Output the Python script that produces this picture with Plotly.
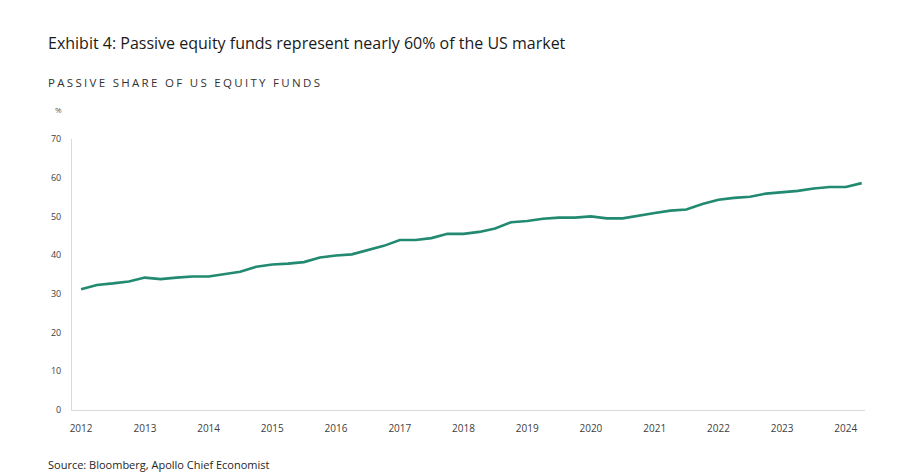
import plotly.graph_objects as go

# Quarterly observations, 2012 Q1 .. 2024 Q2
quarters = [f"{y}-{m:02d}-01" for y in range(2012, 2025) for m in (1, 4, 7, 10)][:50]
passive_share = [
    31.2, 32.3, 32.7, 33.2, 34.2, 33.8, 34.2, 34.5, 34.5, 35.1,
    35.7, 37.0, 37.6, 37.8, 38.2, 39.4, 39.9, 40.2, 41.2, 42.4,
    43.9, 43.9, 44.4, 45.5, 45.5, 46.0, 46.9, 48.5, 48.8, 49.4,
    49.7, 49.7, 50.0, 49.5, 49.5, 50.3, 50.9, 51.5, 51.8, 53.2,
    54.3, 54.8, 55.1, 55.9, 56.3, 56.6, 57.2, 57.6, 57.6, 58.6,
]
y_ticks = [0, 10, 20, 30, 40, 50, 60, 70]

title = "Exhibit 4: Passive equity funds represent nearly 60% of the US market"
subtitle = "PASSIVE SHARE OF US EQUITY FUNDS"
source = "Source: Bloomberg, Apollo Chief Economist"

FONT = "Open Sans"

# the page body adds an 8px offset; the figure is sized to fill the rest
OFF = 8
W, H = 912 - OFF, 475 - OFF
L, R, T, B = 72 - OFF, 47, 139 - OFF, 65

fig = go.Figure()
fig.add_trace(go.Scatter(
    x=quarters, y=passive_share, mode="lines",
    line=dict(color="#218a70", width=2.6),
    hoverinfo="x+y", showlegend=False,
))

fig.update_layout(
    width=W, height=H,
    margin=dict(l=L, r=R, t=T, b=B),
    paper_bgcolor="white", plot_bgcolor="white",
    font=dict(family=FONT, color="#595959"),
    xaxis=dict(
        type="date",
        range=["2011-11-10", "2024-04-20"],
        dtick="M12", tick0="2012-01-01", tickformat="%Y",
        showgrid=False, zeroline=False,
        showline=True, linecolor="#d9d9d9", linewidth=1,
        ticks="", tickfont=dict(size=10, color="#404040", family=FONT),
        ticklabelstandoff=9,
    ),
    yaxis=dict(
        range=[0, 70], tickvals=y_ticks,
        showgrid=False, zeroline=False,
        showline=True, linecolor="#d9d9d9", linewidth=1,
        ticks="", tickfont=dict(size=9, color="#404040", family=FONT),
        ticklabelstandoff=8,
    ),
)

plot_w = W - L - R
plot_h = H - T - B
def px(xp):
    return (xp - OFF - L) / plot_w
def py(yp):
    return (H - B - (yp - OFF)) / plot_h

texts = [
    (title, 46, 43, 16, "#1a1a1a"),
    (f"<span style='letter-spacing:2.3px'>{subtitle}</span>", 46, 82, 11.5, "#333333"),
    ("%", 53, 110, 8, "#595959"),
    (source, 46, 464, 11, "#262626"),
]
for txt, xp, yp, size, color in texts:
    fig.add_annotation(
        text=txt, xref="paper", yref="paper", x=px(xp), y=py(yp),
        xanchor="left", yanchor="middle", showarrow=False,
        font=dict(size=size, color=color, family=FONT),
    )

fig.write_html("out.html")
